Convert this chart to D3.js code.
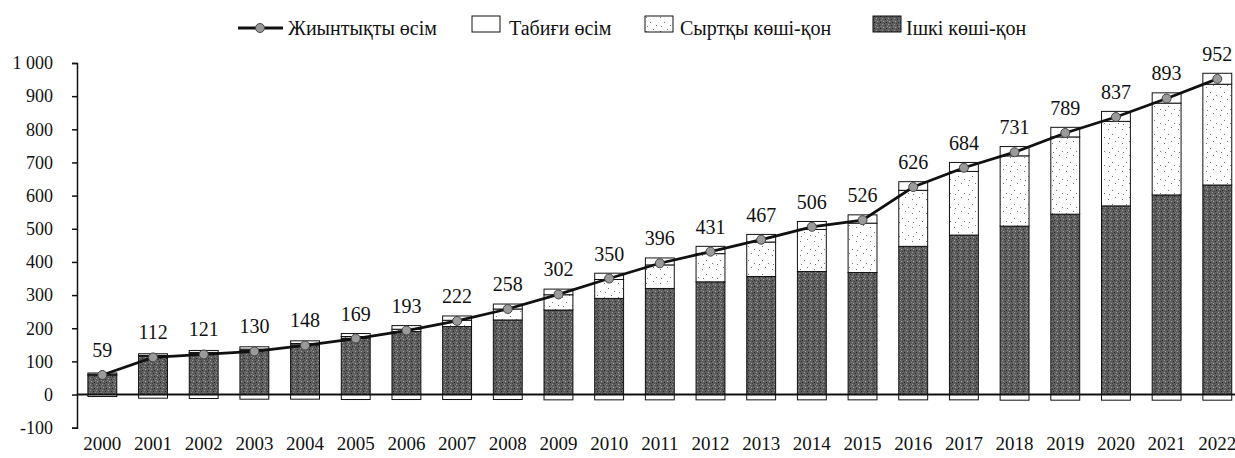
<!DOCTYPE html>
<html>
<head>
<meta charset="utf-8">
<script src="https://cdn.jsdelivr.net/npm/d3@7"></script>
<style>
  body { margin: 0; background: #fff; }
  svg { display: block; }
  text { font-family: "Liberation Serif", "Times New Roman", Tinos, Times, "DejaVu Serif", serif; fill: #111; }
</style>
</head>
<body>
<script>
// values (thousand people, cumulative)
var years = ["2000","2001","2002","2003","2004","2005","2006","2007","2008","2009","2010","2011",
             "2012","2013","2014","2015","2016","2017","2018","2019","2020","2021","2022"];
var total    = [59,112,121,130,148,169,193,222,258,302,350,396,431,467,506,526,626,684,731,789,837,893,952];
var internal = [58,115,124,133,150,170,190,205,225,255,290,320,340,356,371,368,447,481,508,544,569,602,632];
var external = [3,3,3,4,4,5,7,19,33,46,57,71,85,104,127,149,169,192,212,233,255,277,304];
var natural  = [4,5,6,7,8,9,11,13,15,17,19,21,22,23,24,25,26,27,28,29,30,31,33];
var outflow  = [-6,-11,-12,-14,-14,-15,-15,-15,-15,-16,-16,-16,-16,-16,-16,-16,-16,-16,-17,-17,-17,-17,-17];
var yTicks = [-100,0,100,200,300,400,500,600,700,800,900,1000];

var legendNames = ["Жиынтықты өсім", "Табиғи өсім", "Сыртқы көші-қон", "Ішкі көші-қон"];

var width = 1235, height = 458;
var serif = '"Liberation Serif", "Times New Roman", Tinos, Times, "DejaVu Serif", serif';

var svg = d3.select("body").append("svg")
  .attr("width", width)
  .attr("height", height);

// fill patterns imitating the print textures
var defs = svg.append("defs");
var dots = defs.append("pattern")
  .attr("id", "dots").attr("patternUnits", "userSpaceOnUse")
  .attr("width", 14).attr("height", 14);
dots.append("rect").attr("width", 14).attr("height", 14).attr("fill", "#fff");
[[2,3],[9,1],[6,8],[12,11],[3,12]].forEach(function(p) {
  dots.append("rect").attr("x", p[0]).attr("y", p[1]).attr("width", 1).attr("height", 1).attr("fill", "#777");
});

var dark = defs.append("pattern")
  .attr("id", "dark").attr("patternUnits", "userSpaceOnUse")
  .attr("width", 6).attr("height", 6);
dark.append("rect").attr("width", 6).attr("height", 6).attr("fill", "#5e5e5e");
[[0,0,"#999"],[3,1,"#2a2a2a"],[1,3,"#a5a5a5"],[4,4,"#222"],[5,2,"#888"],[2,5,"#3a3a3a"]].forEach(function(p) {
  dark.append("rect").attr("x", p[0]).attr("y", p[1]).attr("width", 1).attr("height", 1).attr("fill", p[2]);
});

var x = d3.scaleBand()
  .domain(years)
  .range([77, 77 + 23 * 50.68])
  .paddingInner(0.43)
  .paddingOuter(0.215);

var y = d3.scaleLinear()
  .domain([-100, 1000])
  .range([427.7, 63]);

// stacked bars
var rows = years.map(function(yr, i) {
  return { year: yr, internal: internal[i], external: external[i], natural: natural[i], outflow: outflow[i] };
});
var keys = ["internal", "external", "natural", "outflow"];
var fills = { internal: "url(#dark)", external: "url(#dots)", natural: "#fff", outflow: "#fff" };

var series = d3.stack().keys(keys).offset(d3.stackOffsetDiverging)(rows);

svg.append("g").selectAll("g")
  .data(series)
  .join("g")
  .attr("fill", function(d) { return fills[d.key]; })
  .selectAll("rect")
  .data(function(d) { return d; })
  .join("rect")
  .attr("x", function(d) { return x(d.data.year); })
  .attr("width", x.bandwidth())
  .attr("y", function(d) { return y(Math.max(d[0], d[1])); })
  .attr("height", function(d) { return Math.abs(y(d[0]) - y(d[1])); })
  .attr("stroke", "#111")
  .attr("stroke-width", 1);

// y axis
var yAxis = svg.append("g")
  .attr("transform", "translate(77,0)")
  .call(d3.axisLeft(y).tickValues(yTicks).tickSize(5).tickPadding(19)
    .tickFormat(function(d) { return d3.format(",")(d).replace(",", " ").replace("−", "-"); }));
yAxis.attr("font-family", null);
yAxis.select(".domain").attr("stroke", "#111").attr("stroke-width", 1.5);
yAxis.selectAll(".tick line").attr("stroke", "#111").attr("stroke-width", 1.5);
yAxis.selectAll("text")
  .style("font-family", serif)
  .attr("font-size", 18)
  .attr("fill", "#111");

// zero line
svg.append("line")
  .attr("x1", 77).attr("x2", width)
  .attr("y1", y(0)).attr("y2", y(0))
  .attr("stroke", "#111").attr("stroke-width", 2);

// x labels
var xAxis = svg.append("g")
  .attr("transform", "translate(0,436)")
  .call(d3.axisBottom(x).tickSize(0).tickPadding(0));
xAxis.attr("font-family", null);
xAxis.select(".domain").remove();
xAxis.selectAll("text")
  .style("font-family", serif)
  .attr("font-size", 19)
  .attr("fill", "#111");

// total line
var cx = function(d, i) { return x(years[i]) + x.bandwidth() / 2; };
var line = d3.line()
  .x(function(d, i) { return cx(d, i); })
  .y(function(d) { return y(d); });

svg.append("path")
  .datum(total)
  .attr("d", line)
  .attr("fill", "none")
  .attr("stroke", "#111")
  .attr("stroke-width", 2.8);

svg.append("g").selectAll("circle")
  .data(total)
  .join("circle")
  .attr("cx", cx)
  .attr("cy", function(d) { return y(d); })
  .attr("r", 4.5)
  .attr("fill", "#9a9a9a")
  .attr("stroke", "#444")
  .attr("stroke-width", 1);

svg.append("g").selectAll("text")
  .data(total)
  .join("text")
  .attr("x", cx)
  .attr("y", function(d) { return y(d) - 18; })
  .attr("text-anchor", "middle")
  .attr("font-size", 20)
  .style("font-family", serif)
  .text(function(d) { return d; });

// legend
var lg = svg.append("g").attr("font-size", 20);
lg.append("line")
  .attr("x1", 238).attr("x2", 283).attr("y1", 28).attr("y2", 28)
  .attr("stroke", "#111").attr("stroke-width", 2.8);
lg.append("circle")
  .attr("cx", 260).attr("cy", 28).attr("r", 4.5)
  .attr("fill", "#9a9a9a").attr("stroke", "#444");
lg.append("text").attr("x", 288).attr("y", 35).style("font-family", serif).text(legendNames[0]);

var boxes = [
  { x: 472, fill: "#fff", tx: 509, name: legendNames[1] },
  { x: 645, fill: "url(#dots)", tx: 680, name: legendNames[2] },
  { x: 873, fill: "url(#dark)", tx: 906, name: legendNames[3] }
];
boxes.forEach(function(b) {
  lg.append("rect")
    .attr("x", b.x).attr("y", 16).attr("width", 28).attr("height", 16)
    .attr("fill", b.fill).attr("stroke", "#111").attr("stroke-width", 1);
  lg.append("text").attr("x", b.tx).attr("y", 35).style("font-family", serif).text(b.name);
});
</script>
</body>
</html>
